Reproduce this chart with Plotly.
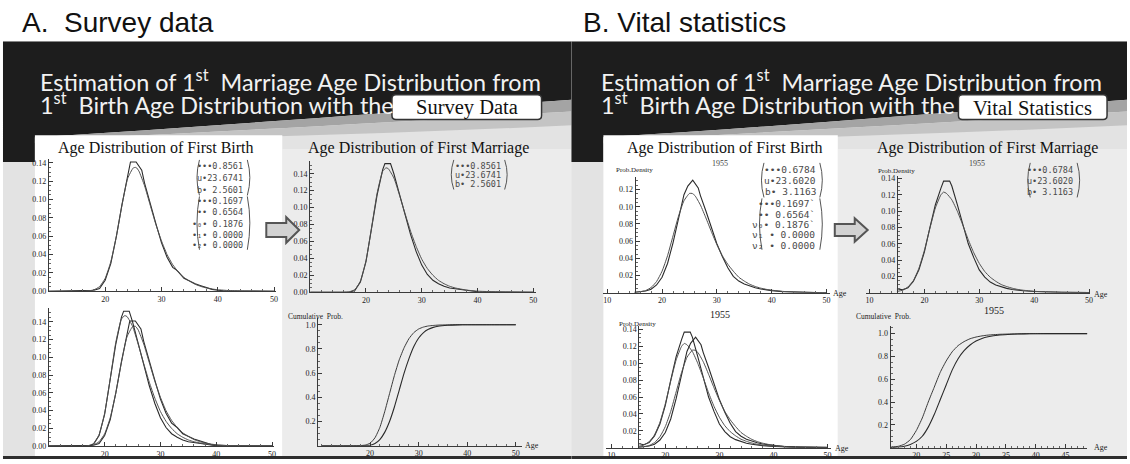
import plotly.graph_objects as go

W, H = 1130, 464

# ---------------- data ----------------
# A. Survey data
A_BIRTH_OBS_AGE = [10, 17, 18, 19, 20, 21, 22, 23, 24, 24.5, 25.5, 26.5, 27, 28, 29, 30, 31, 32, 32.5, 33, 34, 35, 36, 37, 38, 39, 40, 41, 50]
A_BIRTH_OBS = [0, 0.0005, 0.001, 0.003, 0.012, 0.030, 0.060, 0.095, 0.127, 0.141, 0.141, 0.132, 0.118, 0.095, 0.074, 0.053, 0.037, 0.026, 0.024, 0.021, 0.014, 0.011, 0.008, 0.006, 0.004, 0.002, 0.001, 0.0005, 0]
A_BIRTH_FIT_AGE = [10, 16, 17, 18, 19, 20, 21, 22, 23, 24, 25, 25.5, 26, 27, 28, 29, 30, 31, 32, 33, 34, 35, 36, 37, 38, 39, 40, 42, 45, 50]
A_BIRTH_FIT = [0, 0, 0.0003, 0.0015, 0.005, 0.014, 0.032, 0.060, 0.094, 0.123, 0.1345, 0.135, 0.131, 0.115, 0.094, 0.073, 0.055, 0.040, 0.029, 0.021, 0.015, 0.011, 0.0075, 0.0052, 0.0035, 0.0024, 0.0016, 0.0007, 0.0002, 0]
A_MARR_OBS_AGE = [10, 17, 18, 19, 20, 21, 22, 23, 23.4, 24.4, 25, 26, 27, 28, 29, 30, 31, 32, 33, 34, 35, 36, 37, 38, 39, 40, 50]
A_MARR_OBS = [0, 0, 0.002, 0.012, 0.036, 0.076, 0.115, 0.145, 0.152, 0.152, 0.140, 0.116, 0.092, 0.068, 0.048, 0.032, 0.021, 0.014, 0.010, 0.007, 0.005, 0.004, 0.003, 0.002, 0.001, 0.0005, 0]
A_MARR_FIT_AGE = [10, 16, 17, 18, 19, 20, 21, 22, 23, 23.6, 24, 25, 26, 27, 28, 29, 30, 31, 32, 33, 34, 35, 36, 38, 40, 45, 50]
A_MARR_FIT = [0, 0, 0.0005, 0.003, 0.013, 0.037, 0.076, 0.117, 0.143, 0.147, 0.146, 0.135, 0.115, 0.093, 0.072, 0.054, 0.039, 0.028, 0.020, 0.014, 0.010, 0.007, 0.005, 0.0025, 0.0012, 0.0002, 0]
A_CDF_AGE = [10, 18, 19, 20, 21, 22, 23, 24, 25, 26, 27, 28, 29, 30, 31, 32, 33, 34, 36, 38, 40, 45, 50]
A_MARR_CDF = [0, 0.001, 0.005, 0.02, 0.065, 0.15, 0.28, 0.43, 0.58, 0.71, 0.81, 0.885, 0.935, 0.965, 0.981, 0.99, 0.994, 0.997, 0.999, 1.0, 1.0, 1.0, 1.0]
A_BIRTH_CDF = [0, 0, 0.001, 0.004, 0.018, 0.05, 0.11, 0.2, 0.32, 0.46, 0.6, 0.72, 0.82, 0.89, 0.935, 0.962, 0.978, 0.988, 0.996, 0.999, 1.0, 1.0, 1.0]

# B. Vital statistics (1955)
B_BIRTH_OBS_AGE = [15, 16, 17, 18, 19, 20, 21, 22, 23, 24, 24.7, 25.6, 26.6, 27, 28, 29, 30, 31, 32, 33, 34, 35, 36, 37, 38, 39, 40, 42, 44, 46, 48, 50]
B_BIRTH_OBS = [0.0005, 0.001, 0.002, 0.004, 0.009, 0.018, 0.034, 0.058, 0.088, 0.114, 0.124, 0.131, 0.122, 0.113, 0.095, 0.075, 0.057, 0.042, 0.029, 0.019, 0.0135, 0.010, 0.0075, 0.0057, 0.0043, 0.0033, 0.0024, 0.0012, 0.0006, 0.0003, 0.0001, 0]
B_BIRTH_FIT_AGE = [15, 16, 17, 18, 19, 20, 21, 22, 23, 24, 25, 25.5, 26, 27, 28, 29, 30, 31, 32, 33, 34, 35, 36, 37, 38, 39, 40, 42, 44, 46, 48, 50]
B_BIRTH_FIT = [0.0003, 0.001, 0.0025, 0.006, 0.013, 0.025, 0.043, 0.066, 0.089, 0.107, 0.1155, 0.1155, 0.113, 0.102, 0.087, 0.071, 0.056, 0.043, 0.033, 0.025, 0.018, 0.0135, 0.0098, 0.0072, 0.0053, 0.0039, 0.0029, 0.0015, 0.0008, 0.0004, 0.0002, 0.0001]
B_MARR_OBS_AGE = [15, 16, 17, 18, 19, 20, 21, 22, 23, 23.5, 24.6, 25, 26, 27, 28, 29, 30, 31, 32, 33, 34, 35, 36, 37, 38, 40, 42, 45, 50]
B_MARR_OBS = [0.005, 0.0035, 0.006, 0.014, 0.028, 0.05, 0.08, 0.108, 0.128, 0.137, 0.137, 0.131, 0.108, 0.083, 0.06, 0.043, 0.028, 0.019, 0.013, 0.0095, 0.007, 0.0053, 0.004, 0.003, 0.0024, 0.0015, 0.001, 0.0006, 0.0003]
B_MARR_FIT_AGE = [15, 16, 17, 18, 19, 20, 21, 22, 23, 23.5, 24, 25, 26, 27, 28, 29, 30, 31, 32, 33, 34, 35, 36, 37, 38, 40, 42, 45, 50]
B_MARR_FIT = [0.0015, 0.003, 0.007, 0.015, 0.03, 0.052, 0.079, 0.104, 0.12, 0.1235, 0.122, 0.114, 0.1, 0.083, 0.065, 0.049, 0.036, 0.026, 0.019, 0.014, 0.010, 0.0075, 0.0055, 0.004, 0.003, 0.0017, 0.001, 0.0005, 0.0002]
B_CDF_AGE = [15.7, 16, 17, 18, 19, 20, 21, 22, 23, 24, 25, 26, 27, 28, 29, 30, 31, 32, 34, 36, 38, 40, 44, 49]
B_MARR_CDF = [0.004, 0.005, 0.012, 0.03, 0.07, 0.15, 0.26, 0.40, 0.53, 0.66, 0.76, 0.84, 0.895, 0.93, 0.955, 0.97, 0.98, 0.987, 0.994, 0.997, 0.999, 1.0, 1.0, 1.0]
B_BIRTH_CDF = [0.001, 0.002, 0.005, 0.012, 0.028, 0.055, 0.10, 0.18, 0.29, 0.42, 0.55, 0.68, 0.78, 0.85, 0.90, 0.935, 0.958, 0.972, 0.988, 0.995, 0.998, 0.999, 1.0, 1.0]

PANEL_LABELS = ["A.\u00a0\u00a0Survey data", "B. Vital statistics"]
BOX_LABELS = ["Survey Data", "Vital Statistics"]
PLOT_TITLES = ["Age Distribution of First Birth", "Age Distribution of First Marriage"]
A_PARAMS_1 = ["\u2022\u2022\u20220.8561", "u\u202223.6741", "b\u2022 2.5601"]
A_PARAMS_2 = ["\u2022\u2022\u20220.1697", "\u2022\u2022 0.6564", "\u2022\u2080\u2022 0.1876", "\u2022\u2081\u2022 0.0000", "\u2022\u2082\u2022 0.0000"]
B_PARAMS_1 = ["\u2022\u2022\u20220.6784", "u\u202223.6020", "b\u2022 3.1163"]
B_PARAMS_2 = ["\u2022\u2022\u20220.1697`", "\u2022\u2022 0.6564`", "\u03bd\u2080\u2022 0.1876`", "\u03bd\u2081 \u2022 0.0000", "\u03bd\u2082 \u2022 0.0000"]


def X(px):
    return px / W


def Y(py):
    return 1 - py / H


DARK = "#1d1d1d"
AXC = "#3a3a3a"
SERIF = "Liberation Serif"
MONO = "DejaVu Sans Mono"

fig = go.Figure()
layout = {}
shapes = []
annots = []


def add_axes(n, xdom, xr, ydom, yr, xticks, yticks, yfmt, yaxis_age=None, xminor=2, yminor=0.005):
    sfx = "" if n == 1 else str(n)
    layout["xaxis" + sfx] = dict(
        domain=[X(xdom[0]), X(xdom[1])], range=xr, anchor="y" + sfx,
        showline=True, linecolor=AXC, linewidth=1, showgrid=False, zeroline=False,
        ticks="inside", ticklen=4, tickcolor=AXC, tickwidth=1,
        tickmode="array", tickvals=xticks, ticktext=[str(v) for v in xticks],
        tickfont=dict(family=SERIF, size=8, color="#222"),
        minor=dict(ticks="inside", ticklen=2, tickcolor="#666", tickmode="linear", tick0=0, dtick=xminor),
        fixedrange=True,
    )
    ya = dict(
        domain=[Y(ydom[1]), Y(ydom[0])], range=yr,
        showline=True, linecolor=AXC, linewidth=1, showgrid=False, zeroline=False,
        ticks="inside", ticklen=4, tickcolor=AXC, tickwidth=1,
        tickmode="array", tickvals=yticks, ticktext=[format(v, yfmt) for v in yticks],
        tickfont=dict(family=SERIF, size=8, color="#222"),
        minor=dict(ticks="inside", ticklen=2, tickcolor="#666", tickmode="linear", tick0=0, dtick=yminor),
        fixedrange=True,
    )
    if yaxis_age is None:
        ya["anchor"] = "x" + sfx
    else:
        px = xdom[0] + (yaxis_age - xr[0]) / (xr[1] - xr[0]) * (xdom[1] - xdom[0])
        ya["anchor"] = "free"
        ya["position"] = X(px)
    layout["yaxis" + sfx] = ya
    return "x" + sfx, "y" + sfx


def line(xref, yref, xs, ys, color="#2a2a2a", width=1.1, spline=False):
    fig.add_trace(go.Scatter(
        x=xs, y=ys, xaxis=xref, yaxis=yref, mode="lines",
        line=dict(color=color, width=width, shape="spline" if spline else "linear", smoothing=0.5),
        showlegend=False, hoverinfo="skip"))


def rect(x0, y0, x1, y1, fill):
    shapes.append(dict(type="rect", xref="paper", yref="paper", x0=X(x0), x1=X(x1), y0=Y(y1), y1=Y(y0),
                       fillcolor=fill, line=dict(width=0), layer="below"))


def path(pts_str, fill=None, color=None, width=0, layer="below"):
    shapes.append(dict(type="path", xref="paper", yref="paper", path=pts_str,
                       fillcolor=fill if fill else "rgba(0,0,0,0)",
                       line=dict(color=color if color else "rgba(0,0,0,0)", width=width), layer=layer))


def P(px, py):
    return f"{X(px):.5f},{Y(py):.5f}"


def text(px, py, s, size, color="#222", family=SERIF, xanchor="center", yanchor="middle"):
    annots.append(dict(x=X(px), y=Y(py), xref="paper", yref="paper", text=s, showarrow=False,
                       xanchor=xanchor, yanchor=yanchor, font=dict(family=family, size=size, color=color)))


def matrix(lines, right_px, ys, bx0, bx1, by0, by1, size):
    for s, yy in zip(lines, ys):
        text(right_px, yy, s, size, color="#4a4a4a", family=MONO, xanchor="right")
    ym = (by0 + by1) / 2
    path(f"M {P(bx0 + 3, by0)} Q {P(bx0 - 2, ym)} {P(bx0 + 3, by1)}", color="#555", width=1, layer="above")
    path(f"M {P(bx1 - 3, by0)} Q {P(bx1 + 2, ym)} {P(bx1 - 3, by1)}", color="#555", width=1, layer="above")


def block_arrow(x0, x1, xh, yc, hs, hh):
    pts = [(x0, yc - hs), (xh, yc - hs), (xh, yc - hh), (x1, yc), (xh, yc + hh), (xh, yc + hs), (x0, yc + hs)]
    d = "M " + " L ".join(P(a, b) for a, b in pts) + " Z"
    path(d, fill="#d2d2d2", color="#555555", width=2, layer="above")


def rounded_box(x0, y0, x1, y1, r=4):
    d = (f"M {P(x0 + r, y0)} L {P(x1 - r, y0)} Q {P(x1, y0)} {P(x1, y0 + r)} L {P(x1, y1 - r)} "
         f"Q {P(x1, y1)} {P(x1 - r, y1)} L {P(x0 + r, y1)} Q {P(x0, y1)} {P(x0, y1 - r)} "
         f"L {P(x0, y0 + r)} Q {P(x0, y0)} {P(x0 + r, y0)} Z")
    path(d, fill="white", color="#333", width=1.5, layer="above")


# ---------------- slide backgrounds ----------------
for (sx0, sx1, wx0, wx1) in [(3, 573, 35, 283), (573, 1130, 605, 840)]:
    rect(sx0, 41, sx1, 464, "#e3e3e3")
    # dark banner with swoosh edge
    path(f"M {P(sx0, 41)} L {P(sx1, 41)} L {P(sx1, 100)} "
         f"C {P(sx1 - 170, 112)} {P(wx0 + 165, 128)} {P(wx0, 138)} L {P(wx0, 163)} L {P(sx0, 163)} Z", fill=DARK)
    # swoosh gray band
    path(f"M {P(wx0, 138)} C {P(wx0 + 165, 128)} {P(sx1 - 170, 112)} {P(sx1, 100)} L {P(sx1, 112)} "
         f"C {P(sx1 - 170, 122)} {P(wx0 + 165, 134)} {P(wx0, 141)} Z", fill="#a4a4a4")
    path(f"M {P(wx0, 141)} C {P(wx0 + 165, 134)} {P(sx1 - 170, 122)} {P(sx1, 112)} L {P(sx1, 126)} "
         f"C {P(sx1 - 170, 134)} {P(wx0 + 165, 140)} {P(wx0, 144)} Z", fill="#c4c4c4")
    rect(wx1, 150, sx1, 461, "#ececec")
    rect(wx0, 136, wx1, 461, "#ffffff")
    rect(sx0, 461, sx1, 464, "#2e2e2e")

# ---------------- titles ----------------
title_font = "Lato"
for i, (sx, bx0, bx1) in enumerate([(38, 393, 543), (601, 961, 1110)]):
    text(sx - 18, 22, PANEL_LABELS[i], 28, color="#111", family="Liberation Sans", xanchor="left")
    text(sx, 81, "Estimation of 1<sup>st</sup>\u00a0 Marriage Age Distribution from", 23.4, color="#f2f2f2",
         family=title_font, xanchor="left")
    text(sx, 104, "1<sup>st</sup>\u00a0 Birth Age Distribution with the", 23.4, color="#f2f2f2",
         family=title_font, xanchor="left")
    rounded_box(bx0, 95, bx1, 120)
    text((bx0 + bx1) / 2, 108, BOX_LABELS[i], 20.5, color="#111")

text(156, 149, PLOT_TITLES[0], 16, color="#111")
text(420, 149, PLOT_TITLES[1], 16, color="#111")
text(727, 149, PLOT_TITLES[0], 16, color="#111")
text(990, 149, PLOT_TITLES[1], 16, color="#111")

# ---------------- A panel plots ----------------
dens_ticks = [0.0, 0.02, 0.04, 0.06, 0.08, 0.10, 0.12, 0.14]
xa, ya = add_axes(1, (49, 277), [10, 50.4], (160, 294), [0, 0.1443], [20, 30, 40, 50], dens_ticks, ".2f")
line(xa, ya, A_BIRTH_OBS_AGE, A_BIRTH_OBS)
line(xa, ya, A_BIRTH_FIT_AGE, A_BIRTH_FIT, color="#505050", width=1, spline=True)

xa, ya = add_axes(2, (311, 537), [10, 50.4], (162, 295), [0, 0.1552], [20, 30, 40, 50], dens_ticks, ".2f")
line(xa, ya, A_MARR_OBS_AGE, A_MARR_OBS)
line(xa, ya, A_MARR_FIT_AGE, A_MARR_FIT, color="#505050", width=1, spline=True)

xa, ya = add_axes(3, (49, 275), [10, 50.4], (311, 451), [0, 0.1556], [20, 30, 40, 50], dens_ticks, ".2f")
line(xa, ya, A_BIRTH_OBS_AGE, A_BIRTH_OBS)
line(xa, ya, A_BIRTH_FIT_AGE, A_BIRTH_FIT, color="#505050", width=1, spline=True)
line(xa, ya, A_MARR_OBS_AGE, A_MARR_OBS)
line(xa, ya, A_MARR_FIT_AGE, A_MARR_FIT, color="#505050", width=1, spline=True)

cdf_ticks = [0.2, 0.4, 0.6, 0.8, 1.0]
xa, ya = add_axes(4, (319, 523), [9.3, 51.2], (321, 450.5), [0, 1.057], [20, 30, 40, 50], cdf_ticks, ".1f", yminor=0.05)
line(xa, ya, A_CDF_AGE, A_MARR_CDF, color="#3a3a3a", width=1, spline=True)
line(xa, ya, A_CDF_AGE, A_BIRTH_CDF, color="#2a2a2a", width=1.1, spline=True)

# ---------------- B panel plots ----------------
xa, ya = add_axes(5, (605, 832), [9.3, 50.6], (178, 295.5), [0, 0.135], [10, 20, 30, 40, 50],
                  [0.02, 0.04, 0.06, 0.08, 0.10, 0.12], ".2f", yaxis_age=15)
line(xa, ya, B_BIRTH_OBS_AGE, B_BIRTH_OBS)
line(xa, ya, B_BIRTH_FIT_AGE, B_BIRTH_FIT, color="#505050", width=1, spline=True)

xa, ya = add_axes(6, (868, 1093), [9.3, 50.2], (177, 295.5), [0, 0.1436], [10, 20, 30, 40, 50],
                  [0.02, 0.04, 0.06, 0.08, 0.10, 0.12, 0.14], ".2f", yaxis_age=15)
line(xa, ya, B_MARR_OBS_AGE, B_MARR_OBS)
line(xa, ya, B_MARR_FIT_AGE, B_MARR_FIT, color="#505050", width=1, spline=True)

xa, ya = add_axes(7, (608, 833), [9.1, 50.6], (329, 452.5), [0, 0.1445], [10, 20, 30, 40, 50],
                  [0.02, 0.04, 0.06, 0.08, 0.10, 0.12, 0.14], ".2f", yaxis_age=15)
line(xa, ya, B_BIRTH_OBS_AGE, B_BIRTH_OBS)
line(xa, ya, B_BIRTH_FIT_AGE, B_BIRTH_FIT, color="#505050", width=1, spline=True)
line(xa, ya, B_MARR_OBS_AGE, B_MARR_OBS)
line(xa, ya, B_MARR_FIT_AGE, B_MARR_FIT, color="#505050", width=1, spline=True)

xa, ya = add_axes(8, (893, 1090), [15.7, 48.6], (329, 452.5), [0, 1.069], [20, 25, 30, 35, 40, 45],
                  cdf_ticks, ".1f", xminor=1, yminor=0.05)
line(xa, ya, B_CDF_AGE, B_MARR_CDF, color="#3a3a3a", width=1, spline=True)
line(xa, ya, B_CDF_AGE, B_BIRTH_CDF, color="#2a2a2a", width=1.1, spline=True)

# ---------------- small labels ----------------
text(316, 320, "Cumulative\u00a0 Prob.", 7.5, color="#222")
text(886, 320, "Cumulative\u00a0 Prob.", 7.5, color="#222")
text(636, 171, "Prob.Density", 7, color="#222")
text(899, 172, "Prob.Density", 7, color="#222")
text(639, 327, "Prob.Density", 7, color="#222")
text(722, 165, "1955", 8, color="#444")
text(980, 165, "1955", 8, color="#444")
text(722, 318, "1955", 10, color="#222")
text(997, 314, "1955", 10, color="#222")
for (ax_, ay_) in [(533, 450), (842, 296), (1104, 297), (844, 453), (1104, 452)]:
    text(ax_, ay_, "Age", 8, color="#222")

# ---------------- parameter matrices ----------------
matrix(A_PARAMS_1, 246, [167, 179, 191], 197, 251, 161, 197, 8.5)
matrix(A_PARAMS_2, 246, [203, 214, 225.5, 237, 247.5], 197, 251, 198, 252, 8.5)
matrix(A_PARAMS_1, 504, [167, 176, 185], 452, 509, 161, 191, 8.5)
matrix(B_PARAMS_1, 820, [171, 182, 193], 763, 825, 164, 199, 9.5)
matrix(B_PARAMS_2, 819, [205, 216, 226.5, 237, 247.5], 761, 825, 200, 252, 9.5)
matrix(B_PARAMS_1, 1078, [171, 182, 193], 1030, 1083, 164, 199, 8.5)

# ---------------- arrows ----------------
block_arrow(267, 300, 287, 232, 7, 13)
block_arrow(837, 870, 857, 232, 6, 12)

layout.update(
    width=W, height=H, margin=dict(l=0, r=0, t=0, b=0),
    paper_bgcolor="white", plot_bgcolor="rgba(0,0,0,0)",
    shapes=shapes, annotations=annots, showlegend=False,
)
fig.update_layout(**layout)
fig.write_html("out.html", config={"displayModeBar": False})
